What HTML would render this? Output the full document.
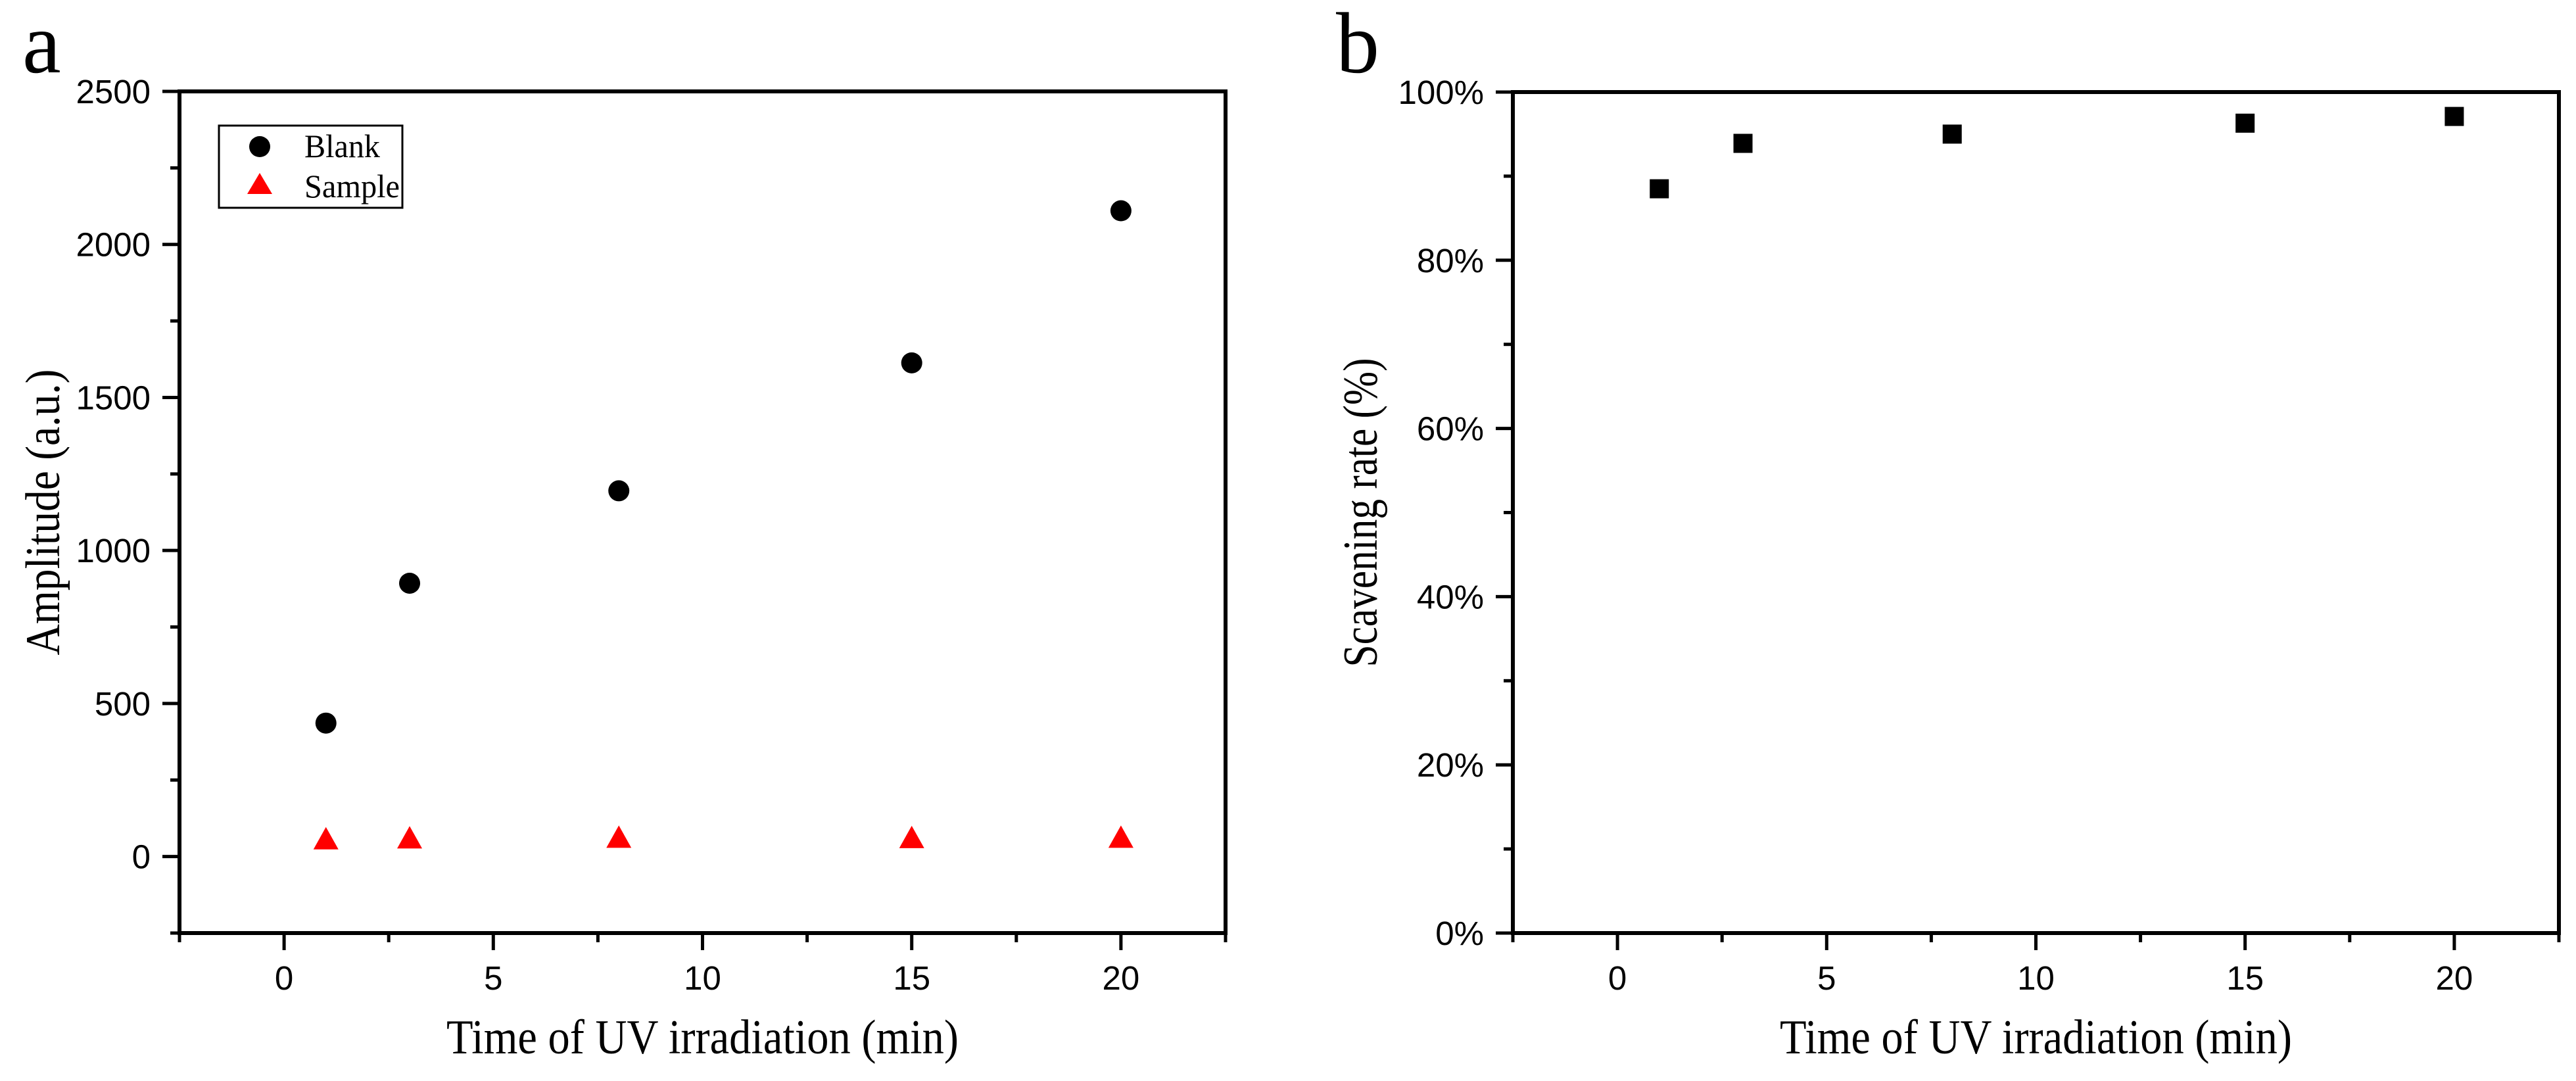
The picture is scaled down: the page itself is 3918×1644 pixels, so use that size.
<!DOCTYPE html>
<html><head><meta charset="utf-8">
<style>
html,body{margin:0;padding:0;background:#fff;}
svg{display:block;}
.tick{font-family:"Liberation Sans",Arial,sans-serif;font-size:51px;fill:#000;}
.title{font-family:"Liberation Serif","Times New Roman",serif;font-size:74px;fill:#000;}
.leg{font-family:"Liberation Serif","Times New Roman",serif;font-size:50px;fill:#000;}
.panel{font-family:"Liberation Serif","Times New Roman",serif;font-size:132px;fill:#000;}
</style></head>
<body>
<svg id="fig" width="3918" height="1644" viewBox="0 0 3918 1644" xmlns="http://www.w3.org/2000/svg">
<rect width="3918" height="1644" fill="#fff"/>
<text class="panel" x="34" y="110">a</text>
<text class="panel" x="2032" y="110">b</text>
<g id="chartA"></g>
<g id="chartB"></g>
</svg>
<script>
const timeValues = [1, 3, 8, 15, 20];
const blankValues = [436, 893, 1195, 1613, 2110];
const sampleValues = [60, 63, 65, 64, 65];
const scavengingValues = [88.5, 93.9, 95.0, 96.3, 97.1];
const xTickLabels = [0, 5, 10, 15, 20];
const yTickLabelsA = [0, 500, 1000, 1500, 2000, 2500];
const yTickLabelsB = [0, 20, 40, 60, 80, 100];

const NS = "http://www.w3.org/2000/svg";
function mk(tag, attrs, parent){
  const e = document.createElementNS(NS, tag);
  for (const k in attrs) e.setAttribute(k, attrs[k]);
  parent.appendChild(e);
  return e;
}

function drawAxes(g, L, T, R, B, xMin, xMax, yMin, yMax, yMajor, yMinorStep, yFmt, xTitle, yTitle, yTitleX, yTitleLen){
  const sx = v => L + (v - xMin) / (xMax - xMin) * (R - L);
  const sy = v => B - (v - yMin) / (yMax - yMin) * (B - T);
  const frame = mk('rect', {x:L, y:T, width:R-L, height:B-T, fill:'none', stroke:'#000', 'stroke-width':6}, g);
  
  
  for (let v = xMin; v <= xMax + 1e-9; v += 2.5) {
    const major = xTickLabels.includes(v);
    const t = mk('line', {x1:sx(v), x2:sx(v), y1:B, y2:B + (major ? 26 : 14), stroke:'#000', 'stroke-width':5}, g);
    
    
  }
  xTickLabels.forEach(v => {
    const tx = mk('text', {x:sx(v), y:B + 86, 'text-anchor':'middle', class:'tick'}, g);
    tx.textContent = v;
    
    
  });
  for (let v = yMin; v <= yMax + 1e-9; v += yMinorStep) {
    const major = yMajor.includes(Math.round(v));
    const t = mk('line', {x1:L - (major ? 26 : 14), x2:L, y1:sy(v), y2:sy(v), stroke:'#000', 'stroke-width':5}, g);
    
    
  }
  yMajor.forEach(v => {
    const tx = mk('text', {x:L - 44, y:sy(v) + 18, 'text-anchor':'end', class:'tick'}, g);
    tx.textContent = yFmt(v);
    
    
  });
  const xt = mk('text', {x:(L + R) / 2, y:1602, 'text-anchor':'middle', class:'title', textLength:779, lengthAdjust:'spacingAndGlyphs'}, g);
  xt.textContent = xTitle;
  
  
  const cy = (T + B) / 2;
  const yt = mk('text', {x:yTitleX, y:cy, 'text-anchor':'middle', class:'title', textLength:yTitleLen, lengthAdjust:'spacingAndGlyphs', transform:'rotate(-90 ' + yTitleX + ' ' + cy + ')'}, g);
  yt.textContent = yTitle;
  
  
  return {sx, sy};
}

const gA = document.getElementById('chartA');
const A = drawAxes(gA, 273, 139, 1864, 1419, -2.5, 22.5, -250, 2500, yTickLabelsA, 250, v => String(v),
  'Time of UV irradiation (min)', 'Amplitude (a.u.)', 90, 435);
timeValues.forEach((t, i) => {
  const c = mk('circle', {cx:A.sx(t), cy:A.sy(blankValues[i]), r:16, fill:'#000'}, gA);
  
  
  const x = A.sx(t), y = A.sy(sampleValues[i]);
  const p = mk('polygon', {points:(x-19)+','+(y+17)+' '+(x+19)+','+(y+17)+' '+x+','+(y-17), fill:'#ff0000'}, gA);
  
  
});
const leg = mk('g', {}, gA);


mk('rect', {x:333, y:191, width:279, height:125, fill:'#fff', stroke:'#000', 'stroke-width':3}, leg);
const lc = mk('circle', {cx:395, cy:223, r:16, fill:'#000'}, leg);


const lt = mk('polygon', {points:'376,295 414,295 395,263', fill:'#ff0000'}, leg);


const l1 = mk('text', {x:463, y:239, class:'leg', textLength:115, lengthAdjust:'spacingAndGlyphs'}, leg); l1.textContent = 'Blank';


const l2 = mk('text', {x:463, y:300, class:'leg', textLength:145, lengthAdjust:'spacingAndGlyphs'}, leg); l2.textContent = 'Sample';



const gB = document.getElementById('chartB');
const Bc = drawAxes(gB, 2301, 140, 3892, 1419, -2.5, 22.5, 0, 100, yTickLabelsB, 10, v => v + '%',
  'Time of UV irradiation (min)', 'Scavening rate (%)', 2094, 470);
timeValues.forEach((t, i) => {
  const s = mk('rect', {x:Bc.sx(t) - 14.5, y:Bc.sy(scavengingValues[i]) - 14.5, width:29, height:29, fill:'#000'}, gB);
  
  
});
</script>
</body></html>
